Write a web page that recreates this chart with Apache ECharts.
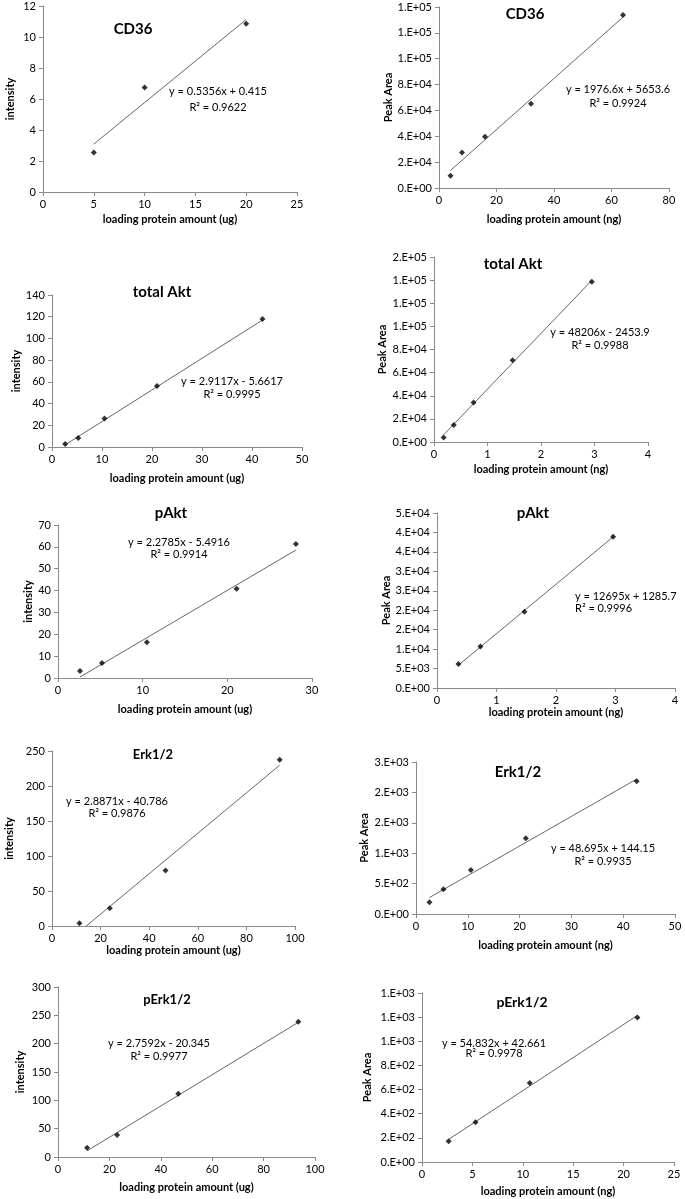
<!DOCTYPE html>
<html><head><meta charset="utf-8">
<script src="https://cdn.jsdelivr.net/npm/echarts@6/dist/echarts.min.js"></script>
<style>html,body{margin:0;padding:0;background:#fff}#c{width:685px;height:1199px}</style>
</head><body><div id="c"></div>
<script>
// ---------------- data ----------------
const titles = ['CD36', 'CD36', 'total Akt', 'total Akt', 'pAkt', 'pAkt', 'Erk1/2', 'Erk1/2', 'pErk1/2', 'pErk1/2'];
const xNames = ['loading protein amount (ug)', 'loading protein amount (ng)', 'loading protein amount (ug)', 'loading protein amount (ng)', 'loading protein amount (ug)', 'loading protein amount (ng)', 'loading protein amount (ug)', 'loading protein amount (ng)', 'loading protein amount (ug)', 'loading protein amount (ng)'];
const yNames = ['intensity', 'Peak Area', 'intensity', 'Peak Area', 'intensity', 'Peak Area', 'intensity', 'Peak Area', 'intensity', 'Peak Area'];

const cd36UgX = [5, 10, 20];
const cd36UgY = [2.55, 6.75, 10.85];
const cd36NgX = [4, 8, 16, 32, 64];
const cd36NgY = [9500, 27500, 39600, 65200, 133800];
const totalAktUgX = [2.63, 5.25, 10.5, 21, 42.1];
const totalAktUgY = [2.8, 8.3, 26.3, 56.1, 118];
const totalAktNgX = [0.18, 0.37, 0.74, 1.47, 2.95];
const totalAktNgY = [3800, 14800, 34100, 70600, 138600];
const pAktUgX = [2.6, 5.2, 10.5, 21.1, 28.1];
const pAktUgY = [3.2, 6.9, 16.4, 40.8, 61.3];
const pAktNgX = [0.36, 0.73, 1.47, 2.96];
const pAktNgY = [6200, 10700, 19600, 38900];
const erkUgX = [11.3, 23.8, 46.7, 93.7];
const erkUgY = [3.8, 25.2, 79.4, 237.6];
const erkNgX = [2.6, 5.3, 10.6, 21.2, 42.6];
const erkNgY = [192, 406, 724, 1245, 2182];
const pErkUgX = [11.3, 23.0, 46.8, 93.5];
const pErkUgY = [16.5, 38.8, 111.8, 238.8];
const pErkNgX = [2.64, 5.31, 10.69, 21.37];
const pErkNgY = [171, 329, 654, 1198];

const slopes = [0.5356, 1976.6, 2.9117, 48206, 2.2785, 12695, 2.8871, 48.695, 2.7592, 54.832];
const intercepts = [0.415, 5653.6, -5.6617, -2453.9, -5.4916, 1285.7, -40.786, 144.15, -20.345, 42.661];
const r2Values = ['0.9622', '0.9924', '0.9995', '0.9988', '0.9914', '0.9996', '0.9876', '0.9935', '0.9977', '0.9978'];

const xMax = [25, 80, 50, 4, 30, 4, 100, 50, 100, 25];
const xStep = [5, 20, 10, 1, 10, 1, 20, 10, 20, 5];
const yMax = [12, 140000, 140, 160000, 70, 45000, 250, 2500, 300, 1400];
const yStep = [2, 20000, 20, 20000, 10, 5000, 50, 500, 50, 200];
const sciLabels = [false, true, false, true, false, true, false, true, false, true];

const xs = [cd36UgX, cd36NgX, totalAktUgX, totalAktNgX, pAktUgX, pAktNgX, erkUgX, erkNgX, pErkUgX, pErkNgX];
const ys = [cd36UgY, cd36NgY, totalAktUgY, totalAktNgY, pAktUgY, pAktNgY, erkUgY, erkNgY, pErkUgY, pErkNgY];

// ---------------- layout (positions / styles only) ----------------
const layout = [
  {l: 43, t: 6, w: 254, h: 186, tt: [133, 29, 15], eq: [218, 91, 107, 'center'], xGap: 22, yGap: 27},
  {l: 439, t: 7, w: 230, h: 181, tt: [525, 14, 15], eq: [618, 89, 103, 'center'], xGap: 26, yGap: 44},
  {l: 52, t: 295, w: 250, h: 152, tt: [162, 292, 15], eq: [232, 381, 394, 'center'], xGap: 26, yGap: 28},
  {l: 434, t: 257, w: 214, h: 185, tt: [513, 264, 15], eq: [600, 332, 345, 'center'], xGap: 22, yGap: 46},
  {l: 58, t: 525, w: 254, h: 153, tt: [171, 513, 15], eq: [179, 542, 554, 'center'], xGap: 26, yGap: 24},
  {l: 437, t: 513, w: 238, h: 175, tt: [533, 513, 15], eq: [575, 596, 608, 'left'], xGap: 19, yGap: 44},
  {l: 52, t: 751, w: 243, h: 175, tt: [153, 755, 13], eq: [117, 801, 813, 'center'], xGap: 18, yGap: 37},
  {l: 416, t: 762, w: 259, h: 152, tt: [518, 772, 15], eq: [603, 848, 861, 'center'], xGap: 26, yGap: 46},
  {l: 58, t: 987, w: 257, h: 170, tt: [167, 1000, 13], eq: [159, 1043, 1056, 'center'], xGap: 25, yGap: 32},
  {l: 422, t: 993, w: 252, h: 169, tt: [522, 1002, 14], eq: [494, 1043, 1053, 'center'], xGap: 24, yGap: 49}
];

const FONT = 'Lato, "Open Sans", sans-serif';
const TXT = '#000';
const AX = '#8a8a8a';

function efmt(v) {
  if (v === 0) return '0.E+00';
  let e = Math.floor(Math.log10(Math.abs(v)) + 1e-9);
  let m = Math.round(v / Math.pow(10, e) + 1e-9);
  if (m >= 10) { m = 1; e++; }
  return m + '.E' + (e >= 0 ? '+' : '-') + String(Math.abs(e)).padStart(2, '0');
}
function eqText(i) {
  const b = intercepts[i];
  return 'y = ' + slopes[i] + 'x ' + (b < 0 ? '- ' : '+ ') + Math.abs(b);
}

const grid = [], xAxis = [], yAxis = [], series = [], graphic = [];
layout.forEach((L, i) => {
  grid.push({left: L.l, top: L.t, width: L.w, height: L.h, containLabel: false});
  xAxis.push({
    type: 'value', gridIndex: i, min: 0, max: xMax[i], interval: xStep[i],
    name: xNames[i], nameLocation: 'middle', nameGap: L.xGap,
    nameTextStyle: {fontFamily: FONT, fontWeight: 'bold', fontSize: 11, color: TXT},
    axisLine: {show: true, lineStyle: {color: AX, width: 1}},
    axisTick: {show: true, inside: false, length: 4, lineStyle: {color: AX}},
    axisLabel: {fontFamily: FONT, fontSize: 11, color: TXT, margin: 7},
    splitLine: {show: false}
  });
  yAxis.push({
    type: 'value', gridIndex: i, min: 0, max: yMax[i], interval: yStep[i],
    name: yNames[i], nameLocation: 'middle', nameGap: L.yGap,
    nameTextStyle: {fontFamily: FONT, fontWeight: 'bold', fontSize: 11, color: TXT},
    axisLine: {show: true, lineStyle: {color: AX, width: 1}},
    axisTick: {show: true, inside: false, length: 4, lineStyle: {color: AX}},
    axisLabel: {fontFamily: FONT, fontSize: 11, color: TXT, margin: 7,
      formatter: sciLabels[i] ? efmt : (v => String(v))},
    splitLine: {show: false}
  });
  const px = xs[i], py = ys[i];
  const x0 = Math.min(...px), x1 = Math.max(...px);
  series.push({
    type: 'line', xAxisIndex: i, yAxisIndex: i, showSymbol: false, symbol: 'none', clip: true,
    data: [[x0, slopes[i] * x0 + intercepts[i]], [x1, slopes[i] * x1 + intercepts[i]]],
    lineStyle: {color: '#666', width: 1}, silent: true, z: 2
  });
  series.push({
    type: 'scatter', xAxisIndex: i, yAxisIndex: i, symbol: 'diamond', symbolSize: 6,
    itemStyle: {color: '#000'}, data: px.map((x, k) => [x, py[k]]), z: 3
  });
  graphic.push({type: 'text', x: L.tt[0], y: L.tt[1],
    style: {text: titles[i], fontFamily: FONT, fontWeight: 'bold', fontSize: L.tt[2], fill: TXT, align: 'center', verticalAlign: 'middle'}});
  graphic.push({type: 'text', x: L.eq[0], y: L.eq[1],
    style: {text: eqText(i), fontFamily: FONT, fontSize: 11, fill: TXT, align: L.eq[3], verticalAlign: 'middle'}});
  graphic.push({type: 'text', x: L.eq[0], y: L.eq[2],
    style: {text: 'R² = ' + r2Values[i], fontFamily: FONT, fontSize: 11, fill: TXT, align: L.eq[3], verticalAlign: 'middle'}});
});

const chart = echarts.init(document.getElementById('c'), null, {renderer: 'canvas'});
chart.setOption({animation: false, backgroundColor: '#fff', grid, xAxis, yAxis, series, graphic});
</script>
</body></html>
